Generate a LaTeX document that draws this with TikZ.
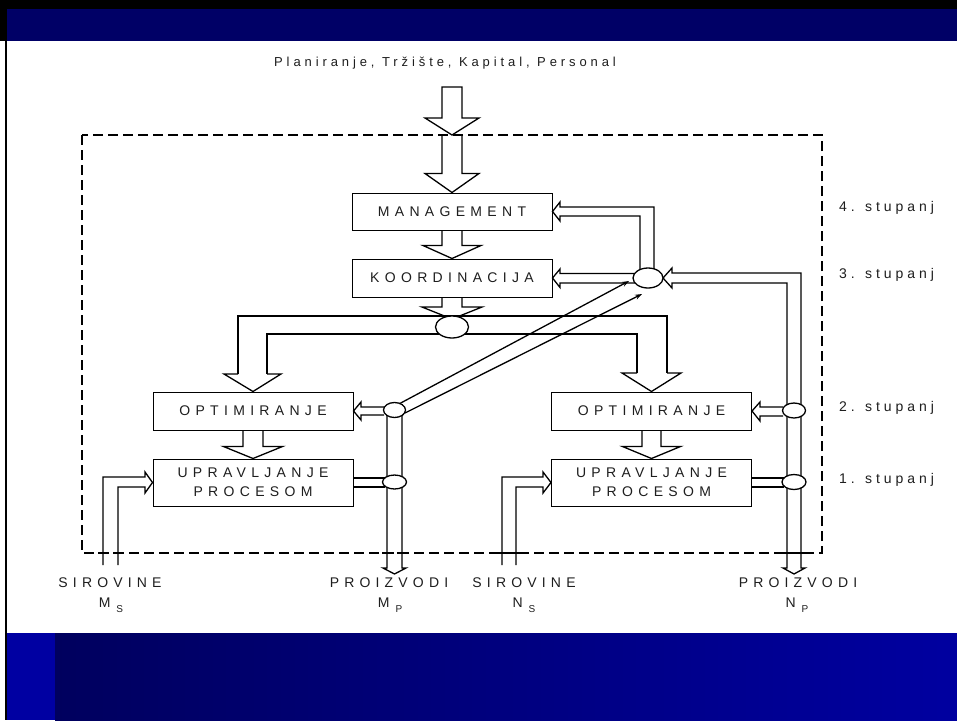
\documentclass[tikz,border=0pt]{standalone}
\usepackage{fontspec}
\setmainfont{Liberation Sans}
\usetikzlibrary{calc,arrows.meta,shapes.geometric}
\definecolor{navytop}{RGB}{0,0,102}
\definecolor{blueleft}{RGB}{0,0,162}
\definecolor{gradA}{RGB}{0,0,94}
\definecolor{gradB}{RGB}{0,0,160}
\definecolor{txt}{RGB}{30,30,30}
\newcommand\boxfont{\fontsize{14}{19}\selectfont\addfontfeature{LetterSpace=38}}
\newcommand\lvlfont{\fontsize{14}{16}\selectfont\addfontfeature{LetterSpace=28}}
\newcommand\titlefont{\fontsize{13}{15}\selectfont\addfontfeature{LetterSpace=30}}
\newcommand\botfont{\fontsize{14}{16}\selectfont\addfontfeature{LetterSpace=37}}
\newcommand\subfont{\fontsize{10}{10}\selectfont}
\newcommand\vblock[5]{\draw[pipe] let \p1=(#1),\p2=(#2) in (\x2-#3,\y1) -- (\x2-#3,\y2+#5) -- (\x2-#4,\y2+#5) -- (\x2,\y2) -- (\x2+#4,\y2+#5) -- (\x2+#3,\y2+#5) -- (\x2+#3,\y1);}
\begin{document}
\begin{tikzpicture}[x=1pt,y=-1pt,
  pipe/.style={line width=1.3pt, line join=miter},
  box/.style={draw, line width=1pt, minimum width=200pt, inner sep=0pt, font=\boxfont, align=center, text=txt},
  oval/.style={ellipse, draw, line width=1.3pt, fill=white, inner sep=0pt},
  lvl/.style={font=\lvlfont, anchor=west, text=txt, inner sep=0pt},
  bot/.style={font=\botfont, text=txt, inner sep=0pt},
  tick/.style={line width=1.3pt},
  diag/.style={line width=1.3pt, -{Stealth[length=7pt,width=5pt]}}]
\useasboundingbox (0,0) rectangle (957,720);
% background
\fill[white] (0,0) rectangle (957,720);
\fill[black] (0,0) rectangle (957,9);
\fill[navytop] (7,9) rectangle (957,41);
\fill[black] (0,9) rectangle (7,41);
\fill[black] (4.5,41) rectangle (7,720);
\fill[blueleft] (7,633) rectangle (55,720);
\shade[left color=gradA, right color=gradB] (55,633) rectangle (957,720);

% title and border
\node[font=\titlefont, text=txt, inner sep=0pt] (title) at (445,63) {Planiranje, Tržište, Kapital, Personal};
\draw[line width=2pt, dash pattern=on 10pt off 5pt] (82,135) rectangle (822,553);

% boxes
\node[box, minimum height=37pt] (man) at (452,211.5) {MANAGEMENT};
\node[box, minimum height=38pt] (koo) at (452,278) {KOORDINACIJA};
\node[box, minimum height=38pt] (optL) at (253,411) {OPTIMIRANJE};
\node[box, minimum height=47pt] (uprL) at (253,482.5) {UPRAVLJANJE\\PROCESOM};
\node[box, minimum height=38pt] (optR) at (651.5,411) {OPTIMIRANJE};
\node[box, minimum height=47pt] (uprR) at (651.5,482.5) {UPRAVLJANJE\\PROCESOM};

% coordinates
\coordinate (in0) at (452,87);
\coordinate (in1) at (452,135);

% input arrows
\draw[pipe] (442,87) -- (442,118) -- (425,118) -- (in1) -- (479,118) -- (462,118) -- (462,87) -- cycle;
\vblock{in1}{man.north}{10pt}{27pt}{19pt}
\vblock{man.south}{koo.north}{10pt}{29pt}{13pt}
\coordinate (hubtip) at (452,319);
\vblock{koo.south}{hubtip}{10pt}{30pt}{12pt}
\vblock{optL.south}{uprL.north}{10pt}{29.5pt}{12pt}
\vblock{optR.south}{uprR.north}{9.5pt}{29pt}{12pt}

% distribution pipe
\draw[pipe] (238,374) -- (238,316) -- (667,316) -- (667,373);
\draw[pipe] (267,374) -- (267,334) -- (637,334) -- (637,373);
\draw[pipe] (238,374) -- (224,374) -- (optL.north) -- (281,374) -- (267,374);
\draw[pipe] (637,373) -- (622,373) -- (optR.north) -- (681,373) -- (667,373);

% diagonal
\draw[diag] (397,405) -- (629,281);
\draw[diag] (405,413) -- (642,294);

% left column pipes
\draw[pipe] (387,410) -- (387,568) -- (383,568) -- (394.5,574) -- (406,568) -- (402,568) -- (402,410);
\draw[pipe] (384,407) -- (361,407) -- (361,402) -- (optL.east) -- (361,420) -- (361,415) -- (384,415);
\draw[pipe] (uprL.east |- 0,478) -- (385,478);
\draw[pipe] (uprL.east |- 0,487) -- (385,487);
\draw[pipe] (103,565) -- (103,477) -- (145,477) -- (145,472) -- (uprL.west) -- (145,493) -- (145,487) -- (118,487) -- (118,565);

% right column pipes
\draw[pipe] (672,273) -- (801,273) -- (801,568) -- (805,568) -- (794,574) -- (783,568) -- (787,568) -- (787,283) -- (672,283) -- (672,288) -- (663,278) -- (672,268) -- cycle;
\draw[pipe] (783,407) -- (760,407) -- (760,402) -- (optR.east) -- (760,421) -- (760,416) -- (783,416);
\draw[pipe] (uprR.east |- 0,478) -- (784,478);
\draw[pipe] (uprR.east |- 0,487) -- (784,487);
\draw[pipe] (502,565) -- (502,477) -- (543,477) -- (543,472) -- (uprR.west) -- (543,493) -- (543,487) -- (516,487) -- (516,565);

% feedback to management and coordination
\draw[pipe] (654,270) -- (654,207) -- (560,207) -- (560,202) -- (man.east) -- (560,221) -- (560,216) -- (640,216) -- (640,270);
\draw[pipe] (636,273.5) -- (560,273.5) -- (560,269) -- (koo.east) -- (560,287.5) -- (560,283) -- (636,283);

% ticks at border
\foreach \xx in {103,118,387,402,502,516,787,801}
  \draw[tick] (\xx-5,553) -- (\xx+5,553);

% ovals
\node[oval, minimum width=33pt, minimum height=22pt] (hubC) at (452,327) {};
\node[oval, minimum width=30pt, minimum height=20pt] (hub) at (648,278) {};
\node[oval, minimum width=22pt, minimum height=15pt] (eL1) at (394.5,410) {};
\node[oval, minimum width=24pt, minimum height=14pt] (eL2) at (394.5,482) {};
\node[oval, minimum width=23pt, minimum height=15pt] (eR1) at (794,410.5) {};
\node[oval, minimum width=24pt, minimum height=15pt] (eR2) at (794,482) {};

% level labels
\node[lvl] (l4) at (839,208) {4. stupanj};
\node[lvl] (l3) at (839,275) {3. stupanj};
\node[lvl] (l2) at (839,408) {2. stupanj};
\node[lvl] (l1) at (839,480) {1. stupanj};

% bottom labels
\node[bot] (s1) at (110,583) {SIROVINE};
\node[bot] (m1) at (111,605) {M\hspace{6pt}\raisebox{-5pt}{\subfont S}};
\node[bot] (p1) at (389,583) {PROIZVODI};
\node[bot] (m2) at (390,605) {M\hspace{6pt}\raisebox{-5pt}{\subfont P}};
\node[bot] (s2) at (524,583) {SIROVINE};
\node[bot] (n1) at (524,605) {N\hspace{6pt}\raisebox{-5pt}{\subfont S}};
\node[bot] (p2) at (798,583) {PROIZVODI};
\node[bot] (n2) at (797,605) {N\hspace{6pt}\raisebox{-5pt}{\subfont P}};
\end{tikzpicture}
\end{document}
